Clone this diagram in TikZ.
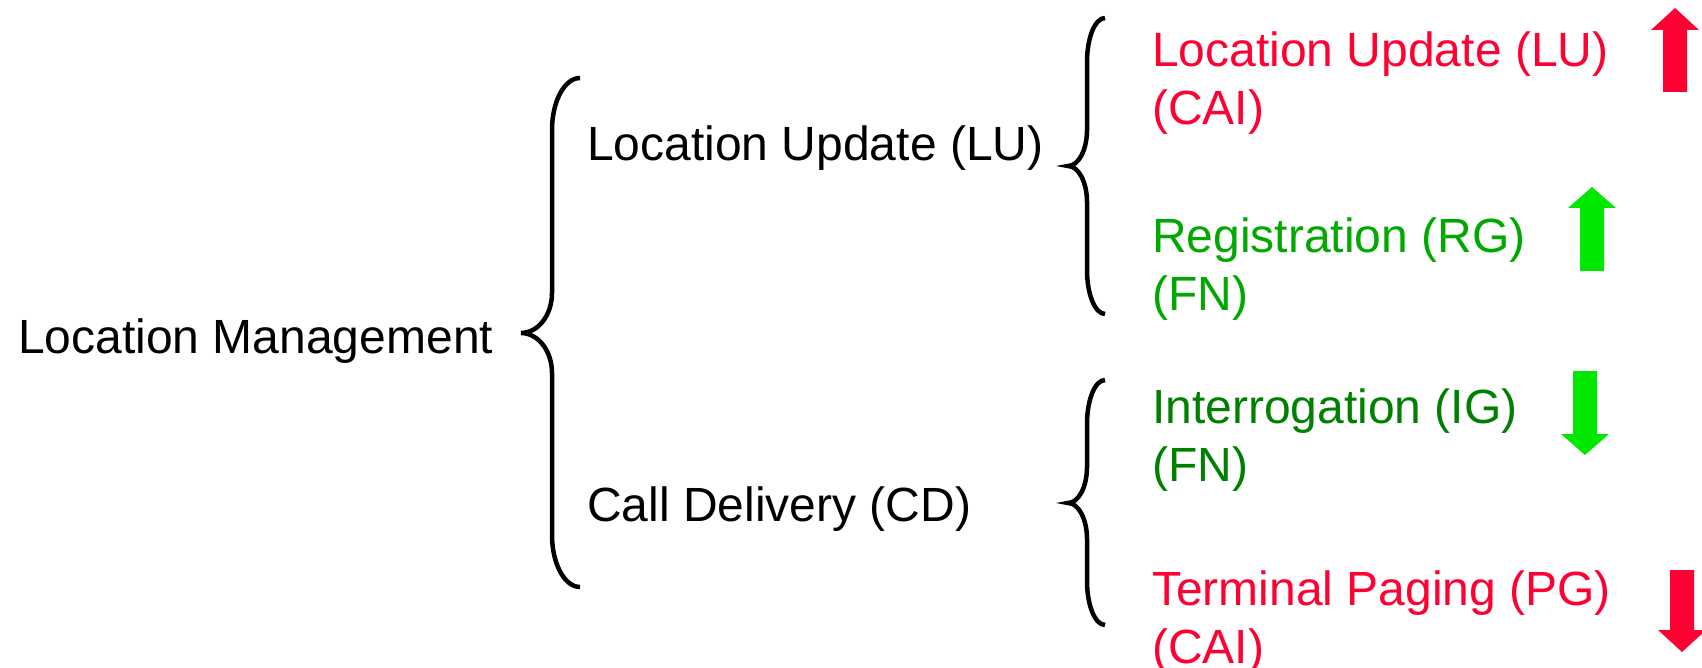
\documentclass[tikz,border=0pt]{standalone}
\usepackage{fontspec}
\setmainfont{Liberation Sans}
\definecolor{lured}{RGB}{255,0,51}
\definecolor{rggreen}{RGB}{0,168,0}
\definecolor{iggreen}{RGB}{0,128,0}
\definecolor{arrgreen}{RGB}{0,232,0}
% #1 xtip, #2 xline, #3 xend, #4 ytop, #5 ytip, #6 ybot, #7 end curve height, #8 tip curve height
\newcommand\curlybrace[8]{%
  \draw[bracestyle] (#3,#4) .. controls ({#3-0.552*(#3-#2)},#4) and (#2,{#4+0.448*#7}) .. (#2,{#4+#7})
    -- (#2,{#5-#8}) .. controls (#2,{#5-0.448*#8}) and ({#1+0.552*(#2-#1)},#5) .. (#1,#5)
    .. controls ({#1+0.552*(#2-#1)},#5) and (#2,{#5+0.448*#8}) .. (#2,{#5+#8})
    -- (#2,{#6-#7}) .. controls (#2,{#6-0.448*#7}) and ({#3-0.552*(#3-#2)},#6) .. (#3,#6);}
\begin{document}
\begin{tikzpicture}[x=1pt,y=-1pt,
  lbl/.style={inner sep=0pt, anchor=base west, align=left,
    font=\fontsize{48}{58}\selectfont},
  bracestyle/.style={line width=4.5pt, black}]
\useasboundingbox (0,0) rectangle (1702,668);
% labels (two-line labels are placed by the baseline of their last line)
\node[lbl] (lm) at (18,353) {Location Management};
\node[lbl] (lu) at (587,161) {Location Update (LU)};
\node[lbl] (cd) at (587,521) {Call Delivery (CD)};
\node[lbl, text=lured] (lucai) at (1152,125) {Location Update (LU)\\(CAI)};
\node[lbl, text=rggreen] (rg) at (1152,310) {Registration (RG)\\(FN)};
\node[lbl, text=iggreen] (ig) at (1152,481) {Interrogation (IG)\\(FN)};
\node[lbl, text=lured] (pg) at (1152,663) {Terminal Paging (PG)\\(CAI)};
% braces
\curlybrace{521}{552}{580}{78}{333}{587}{52}{40}
\curlybrace{1068}{1087}{1105}{18}{166}{314}{44}{36}
\curlybrace{1068}{1087}{1105}{380}{503}{625}{44}{36}
% block arrows
\fill[lured] (1675,8) -- (1699,30) -- (1687,30) -- (1687,92) -- (1663,92) -- (1663,30) -- (1651,30) -- cycle;
\fill[arrgreen] (1592,187) -- (1616,208) -- (1604,208) -- (1604,271) -- (1580,271) -- (1580,208) -- (1568,208) -- cycle;
\fill[arrgreen] (1585,455) -- (1609,434) -- (1597,434) -- (1597,371) -- (1573,371) -- (1573,434) -- (1561,434) -- cycle;
\fill[lured] (1682,652) -- (1706,630) -- (1694,630) -- (1694,570) -- (1670,570) -- (1670,630) -- (1658,630) -- cycle;
\end{tikzpicture}
\end{document}
